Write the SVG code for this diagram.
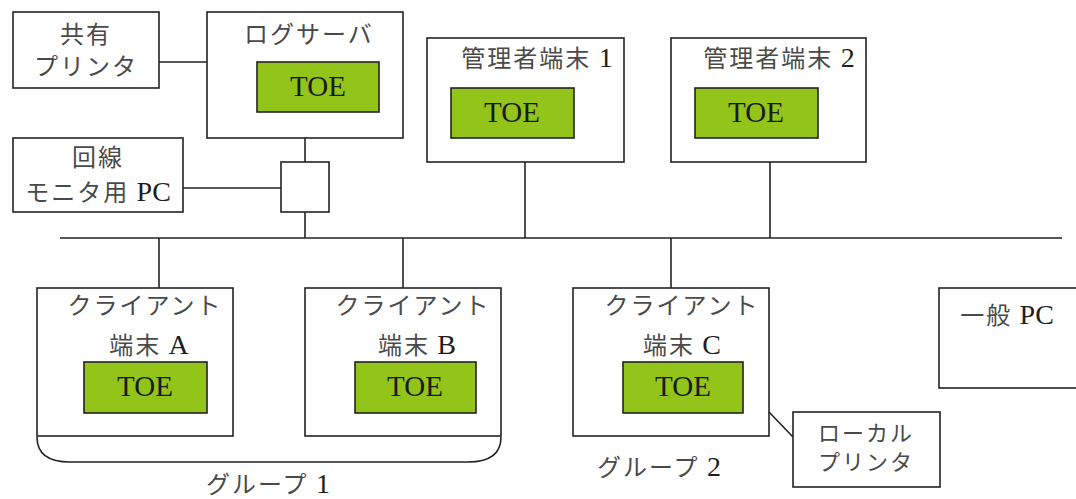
<svg xmlns="http://www.w3.org/2000/svg" width="1076" height="499" viewBox="0 0 1076 499">
<style>
.box{fill:#fff;stroke:#222;stroke-width:1.6}
.toe{fill:#92c41a;stroke:#222;stroke-width:1.6}
.ln{fill:none;stroke:#222;stroke-width:1.6}
text{font-family:"Noto Sans CJK JP",sans-serif;font-size:24px;fill:#4a4a4a;text-anchor:middle;letter-spacing:2px}
tspan.l{font-family:"Liberation Serif","DejaVu Serif",serif;font-size:28px;fill:#1e1e1e;letter-spacing:0}
text.t{font-family:"Liberation Serif","DejaVu Serif",serif;font-size:29px;fill:#1a1a1a;letter-spacing:0}
text.s{font-size:22px}
</style>
<rect width="1076" height="499" fill="#fff"/>
<g id="connectors">
<line class="ln" x1="60" y1="238" x2="1062" y2="238"/>
<line class="ln" x1="159" y1="62" x2="207" y2="62"/>
<line class="ln" x1="305" y1="138" x2="305" y2="162"/>
<line class="ln" x1="305" y1="212" x2="305" y2="238"/>
<line class="ln" x1="183" y1="188" x2="281" y2="188"/>
<line class="ln" x1="525" y1="162" x2="525" y2="238"/>
<line class="ln" x1="770" y1="162" x2="770" y2="238"/>
<line class="ln" x1="159" y1="238" x2="159" y2="288"/>
<line class="ln" x1="403" y1="238" x2="403" y2="288"/>
<line class="ln" x1="671" y1="238" x2="671" y2="288"/>
<line class="ln" x1="769" y1="412" x2="793" y2="437"/>
</g>
<g id="shared-printer">
<rect class="box" x="13" y="12" width="146" height="76"/>
<text x="86" y="43">共有</text>
<text x="86" y="75">プリンタ</text>
</g>
<g id="log-server">
<rect class="box" x="207" y="12" width="196" height="126"/>
<text x="309" y="43">ログサーバ</text>
<rect class="toe" x="257" y="62" width="122" height="50"/>
<text class="t" x="318" y="96">TOE</text>
</g>
<g id="monitor-pc">
<rect class="box" x="13" y="138" width="170" height="74"/>
<text x="98" y="166">回線</text>
<text x="98" y="201">モニタ用 <tspan class="l">PC</tspan></text>
</g>
<g id="hub">
<rect class="box" x="281" y="162" width="48" height="50"/>
</g>
<g id="admin1">
<rect class="box" x="427" y="38" width="197" height="124"/>
<text x="537" y="67">管理者端末 <tspan class="l">1</tspan></text>
<rect class="toe" x="451" y="88" width="123" height="50"/>
<text class="t" x="512" y="122">TOE</text>
</g>
<g id="admin2">
<rect class="box" x="671" y="38" width="195" height="124"/>
<text x="779" y="67">管理者端末 <tspan class="l">2</tspan></text>
<rect class="toe" x="695" y="88" width="123" height="50"/>
<text class="t" x="756" y="122">TOE</text>
</g>
<g id="client-a">
<rect class="box" x="37" y="288" width="196" height="148"/>
<text x="145" y="314">クライアント</text>
<text x="149" y="354">端末 <tspan class="l">A</tspan></text>
<rect class="toe" x="84" y="362" width="123" height="51"/>
<text class="t" x="145" y="396">TOE</text>
</g>
<g id="client-b">
<rect class="box" x="305" y="288" width="196" height="148"/>
<text x="413" y="314">クライアント</text>
<text x="417" y="354">端末 <tspan class="l">B</tspan></text>
<rect class="toe" x="355" y="362" width="121" height="51"/>
<text class="t" x="415" y="396">TOE</text>
</g>
<g id="client-c">
<rect class="box" x="573" y="288" width="196" height="148"/>
<text x="682" y="314">クライアント</text>
<text x="682" y="354">端末 <tspan class="l">C</tspan></text>
<rect class="toe" x="623" y="362" width="120" height="51"/>
<text class="t" x="683" y="396">TOE</text>
</g>
<g id="local-printer">
<rect class="box" x="793" y="412" width="147" height="75"/>
<text class="s" x="866" y="441">ローカル</text>
<text class="s" x="866" y="470">プリンタ</text>
</g>
<g id="general-pc">
<rect class="box" x="939" y="288" width="150" height="100"/>
<text x="1007" y="324">一般 <tspan class="l">PC</tspan></text>
</g>
<g id="group1">
<path class="ln" d="M37,437 Q37,462 70,462 H468 Q501,462 501,437"/>
<text x="268" y="493">グループ <tspan class="l">1</tspan></text>
</g>
<g id="group2">
<text x="659" y="476">グループ <tspan class="l">2</tspan></text>
</g>
</svg>
